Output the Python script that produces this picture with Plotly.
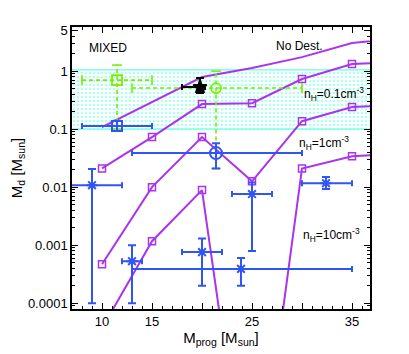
import math
import plotly.graph_objects as go

# model curves (progenitor mass vs dust mass)
m_prog = [10, 15, 20, 25, 30, 35, 40]
no_dest = [0.108, 0.29, 0.79, 1.13, 1.74, 3.04, 3.7]
nh_01 = [0.021, 0.073, 0.27, 0.28, 0.73, 1.32, 1.46]
nh_1 = [0.00047, 0.010, 0.073, 0.0126, 0.137, 0.24, 0.264]
nh_10 = [3.7e-5, 0.00117, 0.0089, 8e-9, 0.021, 0.034, 0.038]

# observed band
band_lo, band_hi = 0.1, 1.05

# blue asterisks
ast_x = [9, 13, 20, 23.9, 25, 32.4]
ast_y = [0.0108, 0.00053, 0.00076, 0.00039, 0.0076, 0.0117]
ast_xlo = [6, 12, 18, 13, 23, 30]
ast_xhi = [12, 14, 22, 35, 27, 35]
ast_ylo = [0.0001, 0.0001, 0.0002, 0.0002, 0.00079, 0.0093]
ast_yhi = [0.0205, 0.001, 0.0013, 0.0006, 0.012, 0.0149]

# blue square / circle, green square / circle, black star
sq_x, sq_y, sq_xlo, sq_xhi, sq_ylo, sq_yhi = 11.5, 0.113, 8, 15, 0.093, 0.14
ci_x, ci_y, ci_xlo, ci_xhi, ci_ylo, ci_yhi = 21.4, 0.0386, 13, 30, 0.021, 0.057
gsq_x, gsq_y, gsq_xlo, gsq_xhi, gsq_ylo, gsq_yhi = 11.5, 0.70, 8, 15, 0.1, 1.27
gci_x, gci_y, gci_xlo, gci_xhi, gci_ylo, gci_yhi = 21.4, 0.51, 13, 30, 0.021, 1.0
bk_x, bk_y, bk_xlo, bk_xhi, bk_ylo, bk_yhi = 19.8, 0.53, 18, 20.3, 0.42, 0.76

PURPLE = "#aa33ee"
BLUE = "#2f55f5"
GREEN = "#77ee00"
CYAN = "#66ffe0"
FONT = "Liberation Sans"

xr = [7.0, 36.8]
yr = [-4.10, 0.76]

fig = go.Figure()

# hatched band
fig.add_trace(go.Scatter(
    x=[xr[0] - 1, xr[1] + 1, xr[1] + 1, xr[0] - 1, xr[0] - 1],
    y=[band_lo, band_lo, band_hi, band_hi, band_lo],
    mode="lines", fill="toself", fillcolor="rgba(0,0,0,0)",
    fillpattern=dict(shape=".", fgcolor=CYAN, bgcolor="white", size=4, solidity=0.35),
    line=dict(color=CYAN, width=1.2), hoverinfo="skip", showlegend=False))

# model lines
fig.add_trace(go.Scatter(x=m_prog, y=no_dest, mode="lines",
                         line=dict(color=PURPLE, width=2), showlegend=False))
for ys in [nh_01, nh_1, nh_10]:
    fig.add_trace(go.Scatter(x=m_prog, y=ys, mode="lines+markers",
                             line=dict(color=PURPLE, width=2),
                             marker=dict(symbol="square-open", size=7, color=PURPLE,
                                         line=dict(width=1.5, color=PURPLE)),
                             showlegend=False))


def err_trace(x, y, xlo, xhi, ylo, yhi, color, symbol, size):
    return go.Scatter(
        x=x, y=y, mode="markers",
        marker=dict(symbol=symbol, size=size, color=color, line=dict(width=2, color=color)),
        error_x=dict(type="data", symmetric=False,
                     array=[b - a for a, b in zip(x, xhi)],
                     arrayminus=[a - b for a, b in zip(x, xlo)],
                     color=color, thickness=2, width=3),
        error_y=dict(type="data", symmetric=False,
                     array=[b - a for a, b in zip(y, yhi)],
                     arrayminus=[a - b for a, b in zip(y, ylo)],
                     color=color, thickness=2, width=4),
        showlegend=False)


def dashed_err(x, y, xlo, xhi, ylo, yhi, color, symbol):
    segx = [xlo, xhi, None, x, x]
    segy = [y, y, None, ylo, yhi]
    fig.add_trace(go.Scatter(x=segx, y=segy, mode="lines",
                             line=dict(color=color, width=1.6, dash="4px,3px"), showlegend=False))
    fig.add_trace(go.Scatter(x=[x, x], y=[ylo, yhi], mode="markers",
                             marker=dict(symbol="line-ew-open", size=7, color=color,
                                         line=dict(width=1.6, color=color)), showlegend=False))
    fig.add_trace(go.Scatter(x=[xlo, xhi], y=[y, y], mode="markers",
                             marker=dict(symbol="line-ns-open", size=7, color=color,
                                         line=dict(width=1.6, color=color)), showlegend=False))
    fig.add_trace(go.Scatter(x=[x], y=[y], mode="markers",
                             marker=dict(symbol=symbol, size=10, color=color,
                                         line=dict(width=1.8, color=color)), showlegend=False))


dashed_err(gsq_x, gsq_y, gsq_xlo, gsq_xhi, gsq_ylo, gsq_yhi, GREEN, "square-open")
dashed_err(gci_x, gci_y, gci_xlo, gci_xhi, gci_ylo, gci_yhi, GREEN, "circle-open")

fig.add_trace(err_trace(ast_x, ast_y, ast_xlo, ast_xhi, ast_ylo, ast_yhi, BLUE, "asterisk-open", 9))
fig.add_trace(err_trace([sq_x], [sq_y], [sq_xlo], [sq_xhi], [sq_ylo], [sq_yhi], BLUE, "square-open", 10))
fig.add_trace(err_trace([ci_x], [ci_y], [ci_xlo], [ci_xhi], [ci_ylo], [ci_yhi], BLUE, "circle-open", 12))
fig.add_trace(err_trace([bk_x], [bk_y], [bk_xlo], [bk_xhi], [bk_ylo], [bk_yhi], "black", "star", 10))

# annotations
labels = [
    ("MIXED", 8.5, 2.5, 12),
    ("No Dest.", 27.2, 2.75, 12),
    ("n<sub>H</sub>=0.1cm<sup>-3</sup>", 30.0, 0.40, 12),
    ("n<sub>H</sub>=1cm<sup>-3</sup>", 29.5, 0.057, 12),
    ("n<sub>H</sub>=10cm<sup>-3</sup>", 29.9, 0.0015, 12),
]
for txt, ax_, ay_, fs in labels:
    fig.add_annotation(x=ax_, y=math.log10(ay_), text=txt, showarrow=False,
                       xanchor="left", font=dict(family=FONT, size=fs, color="black"))

yt = [0.0001, 0.001, 0.01, 0.1, 1, 5]
yminor = [m * 10 ** k for k in range(-5, 1) for m in range(2, 10)]

fig.update_xaxes(range=xr, tickvals=[10, 15, 20, 25, 30, 35],
                 ticktext=["10", "15", "", "25", "", "35"], automargin=False,
                 ticks="inside", ticklen=6, tickcolor="black", mirror="allticks",
                 showline=True, linecolor="black", linewidth=1.5, showgrid=False, zeroline=False,
                 minor=dict(dtick=1, ticks="inside", ticklen=3, tickcolor="black"),
                 tickfont=dict(family=FONT, size=13, color="black"),
                 title=dict(text="M<sub>prog</sub> [M<sub>sun</sub>]", standoff=1,
                            font=dict(family=FONT, size=15, color="black")))
fig.update_yaxes(type="log", range=yr, tickvals=yt, automargin=False,
                 ticktext=["0.0001", "0.001", "0.01", "0.1", "1", "5"],
                 ticks="inside", ticklen=6, tickcolor="black", mirror="allticks",
                 showline=True, linecolor="black", linewidth=1.5, showgrid=False, zeroline=False,
                 minor=dict(tickvals=yminor, ticks="inside", ticklen=3, tickcolor="black"),
                 tickfont=dict(family=FONT, size=13, color="black"),
                 title=dict(text="M<sub>d</sub> [M<sub>sun</sub>]", standoff=5,
                            font=dict(family=FONT, size=15, color="black")))

# page body adds an 8px offset, so the figure is sized to fit inside the window
fig.update_layout(width=401, height=346, margin=dict(l=64, r=39, t=19, b=45),
                  plot_bgcolor="white", paper_bgcolor="white", showlegend=False)

fig.write_html("out.html")
